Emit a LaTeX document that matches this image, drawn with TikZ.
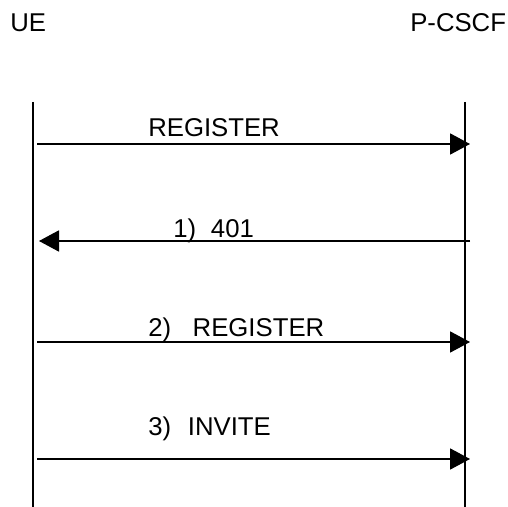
\documentclass[tikz,border=0pt]{standalone}
\usepackage{fontspec}
\setmainfont{Liberation Sans}
\usetikzlibrary{arrows.meta}
\tikzset{
  lifeline/.style={line width=0.8pt},
  msg/.style={line width=0.8pt, -{Triangle[length=0.5cm, width=0.53cm]}},
  lbl/.style={anchor=base west, inner sep=0pt, font=\fontsize{18.3}{22}\selectfont},
}

\begin{document}
\begin{tikzpicture}[scale=1.0]
  \useasboundingbox (0,0) rectangle (12.7,12.675);
  % entities
  \node[lbl] (UE) at (0.25,11.89) {UE};
  \node[lbl] (PCSCF) at (10.25,11.89) {P-CSCF};
  \coordinate (UEtop) at (0.825,10.125);
  \coordinate (UEbot) at (0.825,0);
  \coordinate (Ptop) at (11.625,10.125);
  \coordinate (Pbot) at (11.625,0);
  \draw[lifeline] (UEtop) -- (UEbot);
  \draw[lifeline] (Ptop) -- (Pbot);
  % messages
  \coordinate (m0a) at (0.925,9.075);
  \coordinate (m0b) at (11.75,9.075);
  \draw[msg] (m0a) -- (m0b);
  \node[lbl] (L0) at (3.7,9.25) {REGISTER};
  \coordinate (m1a) at (11.75,6.65);
  \coordinate (m1b) at (0.975,6.65);
  \draw[msg] (m1a) -- (m1b);
  \node[lbl] (L1) at (4.325,6.725) {1)\hspace{0.37cm}401};
  \coordinate (m2a) at (0.925,4.125);
  \coordinate (m2b) at (11.75,4.125);
  \draw[msg] (m2a) -- (m2b);
  \node[lbl] (L2) at (3.7,4.25) {2)\hspace{0.54cm}REGISTER};
  \coordinate (m3a) at (0.925,1.2);
  \coordinate (m3b) at (11.75,1.2);
  \draw[msg] (m3a) -- (m3b);
  \node[lbl] (L3) at (3.7,1.775) {3)\hspace{0.42cm}INVITE};
\end{tikzpicture}
\end{document}
